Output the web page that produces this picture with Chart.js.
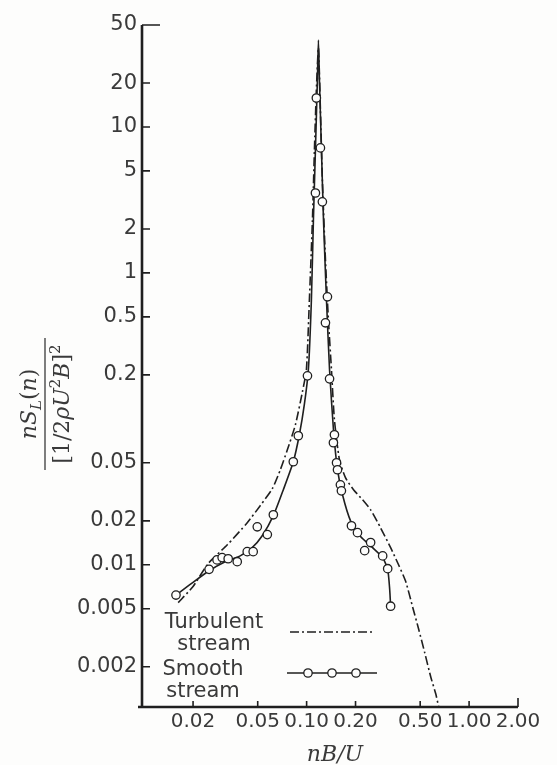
<!DOCTYPE html>
<html lang="en">
<head>
    <meta charset="UTF-8">
    <title>nS_L(n) spectrum</title>
    <script src="https://cdn.jsdelivr.net/npm/chart.js"></script>
    <style>
        * {
            margin: 0;
            padding: 0;
            box-sizing: border-box;
        }
        body {
            background-color: #fdfdfc;
            width: 557px;
            height: 765px;
            overflow: hidden;
        }
        #spectrum {
            display: block;
        }
    </style>
</head>
<body>
    <canvas id="spectrum" width="557" height="765"></canvas>

    <script>
        // tick values
        const yTicks = [50, 20, 10, 5, 2, 1, 0.5, 0.2, 0.05, 0.02, 0.01, 0.005, 0.002];
        const xTicks = [0.02, 0.05, 0.1, 0.2, 0.5, 1, 2];

        // smooth stream: measured points (circles)
        const smoothPointsX = [0.0157, 0.0251, 0.0281, 0.0302, 0.0329, 0.0374, 0.0431, 0.0469, 0.0497, 0.0573,
            0.0624, 0.0828, 0.0889, 0.1012, 0.1133, 0.1148, 0.1216, 0.1250, 0.1343, 0.1306,
            0.1384, 0.1483, 0.1462, 0.1528, 0.1549, 0.1614, 0.1637, 0.1888, 0.2056, 0.2477,
            0.2276, 0.2938, 0.3155, 0.3289];
        const smoothPointsY = [0.0062, 0.0093, 0.0108, 0.0112, 0.0110, 0.0105, 0.0123, 0.0123, 0.0182, 0.0161,
            0.0220, 0.0508, 0.0766, 0.197, 3.53, 15.8, 7.19, 3.07, 0.686, 0.455,
            0.188, 0.0778, 0.0686, 0.0500, 0.0448, 0.0353, 0.0321, 0.0185, 0.0166, 0.0142,
            0.0125, 0.0115, 0.0094, 0.0052];

        // smooth stream: faired curve (solid)
        const smoothCurveX = [0.0157, 0.0191, 0.0251, 0.0315, 0.0390, 0.0462, 0.0533, 0.0624, 0.0719, 0.0828,
            0.0902, 0.0968, 0.1025, 0.1070, 0.1101, 0.1133, 0.1165, 0.1182, 0.1199, 0.1234,
            0.1270, 0.1325, 0.1384, 0.1463, 0.1549, 0.1663, 0.1864, 0.2147, 0.2547, 0.2938,
            0.3155, 0.3245, 0.3289];
        const smoothCurveY = [0.0062, 0.0073, 0.0091, 0.0105, 0.0115, 0.0131, 0.0158, 0.0217, 0.0327, 0.0508,
            0.0778, 0.125, 0.217, 0.653, 2.31, 6.97, 21.0, 39.4, 21.0, 6.97,
            2.31, 0.653, 0.217, 0.0841, 0.0448, 0.0302, 0.0200, 0.0156, 0.0131, 0.0112,
            0.0093, 0.0068, 0.0052];

        // turbulent stream (dash-dot)
        const turbX = [0.0162, 0.0200, 0.0248, 0.0325, 0.0431, 0.0518, 0.0615, 0.0689, 0.0761, 0.0853,
            0.0942, 0.0997, 0.1040, 0.1086, 0.1117, 0.1148, 0.1182, 0.1216, 0.1250, 0.1306,
            0.1362, 0.1422, 0.1483, 0.1592, 0.1734, 0.1944, 0.2210, 0.2477, 0.2853, 0.3289,
            0.368, 0.407, 0.450, 0.490, 0.533, 0.581, 0.624, 0.650];
        const turbY = [0.0055, 0.0071, 0.0102, 0.0137, 0.0194, 0.0254, 0.0332, 0.0448, 0.0614, 0.0910,
            0.153, 0.217, 0.653, 2.31, 6.97, 17.9, 34.8, 13.1, 4.34, 1.23,
            0.476, 0.217, 0.0984, 0.0525, 0.0395, 0.0327, 0.0279, 0.0238, 0.0179, 0.0131,
            0.0100, 0.0077, 0.0051, 0.0036, 0.0025, 0.0017, 0.0013, 0.00106];

        const ink = '#1f1f1f';
        const textInk = '#3a3a3a';
        const sans = '"DejaVu Sans", sans-serif';
        const serif = '"DejaVu Serif", serif';
        const dashDot = [9, 3, 2, 3];

        const toPts = (xs, ys) => xs.map((x, i) => ({ x: x, y: ys[i] }));

        // draws a run of text pieces centred on cx
        function drawRun(ctx, parts, cx, baseline) {
            let w = 0;
            parts.forEach(p => { ctx.font = p.f; w += ctx.measureText(p.t).width; });
            let x = cx - w / 2;
            parts.forEach(p => {
                ctx.font = p.f;
                ctx.fillText(p.t, x, baseline + (p.dy || 0));
                x += ctx.measureText(p.t).width;
            });
        }

        const axesPlugin = {
            id: 'axes',
            afterDatasetsDraw(chart) {
                const ctx = chart.ctx;
                const a = chart.chartArea;
                const xs = chart.scales.x;
                const ys = chart.scales.y;
                ctx.save();
                ctx.strokeStyle = ink;
                ctx.lineCap = 'butt';

                // axis lines
                ctx.lineWidth = 2.6;
                ctx.beginPath();
                ctx.moveTo(a.left, a.top);
                ctx.lineTo(a.left, a.bottom);
                ctx.moveTo(a.left - 4, a.bottom);
                ctx.lineTo(a.right, a.bottom);
                ctx.stroke();

                // inward ticks
                ctx.lineWidth = 1.6;
                ctx.beginPath();
                yTicks.forEach(v => {
                    const py = ys.getPixelForValue(v);
                    ctx.moveTo(a.left, py);
                    ctx.lineTo(a.left + (v === 50 ? 18 : 8), py);
                });
                xTicks.forEach(v => {
                    const px = xs.getPixelForValue(v);
                    ctx.moveTo(px, a.bottom);
                    ctx.lineTo(px, a.bottom - (v === 2 ? 9 : 6));
                });
                ctx.stroke();

                // legend, inside the plot
                ctx.fillStyle = textInk;
                ctx.textAlign = 'center';
                ctx.textBaseline = 'alphabetic';
                ctx.font = '21px ' + sans;
                ctx.fillText('Turbulent', 214, 628);
                ctx.fillText('stream', 214, 650);
                ctx.fillText('Smooth', 203, 675);
                ctx.fillText('stream', 203, 697);

                ctx.lineWidth = 1.6;
                ctx.setLineDash(dashDot);
                ctx.beginPath();
                ctx.moveTo(290, 632);
                ctx.lineTo(373, 632);
                ctx.stroke();
                ctx.setLineDash([]);
                ctx.beginPath();
                ctx.moveTo(287, 673);
                ctx.lineTo(377, 673);
                ctx.stroke();
                [308, 332, 356].forEach(cx => {
                    ctx.beginPath();
                    ctx.arc(cx, 673, 4.2, 0, Math.PI * 2);
                    ctx.fillStyle = '#fdfdfc';
                    ctx.fill();
                    ctx.lineWidth = 1.3;
                    ctx.stroke();
                });

                // x axis title
                ctx.fillStyle = textInk;
                ctx.textAlign = 'left';
                ctx.textBaseline = 'alphabetic';
                drawRun(ctx, [
                    { t: 'nB/U', f: 'italic 22px ' + serif }
                ], 335, 761);

                // y axis title: rotated fraction
                ctx.translate(45, 404);
                ctx.rotate(-Math.PI / 2);
                ctx.lineWidth = 1.3;
                ctx.strokeStyle = textInk;
                ctx.beginPath();
                ctx.moveTo(-66, 0);
                ctx.lineTo(66, 0);
                ctx.stroke();
                drawRun(ctx, [
                    { t: 'nS', f: 'italic 22px ' + serif },
                    { t: 'L', f: 'italic 15px ' + serif, dy: 5 },
                    { t: '(', f: '22px ' + serif },
                    { t: 'n', f: 'italic 22px ' + serif },
                    { t: ')', f: '22px ' + serif }
                ], 0, -9);
                drawRun(ctx, [
                    { t: '[1/2', f: '22px ' + serif },
                    { t: '\u03C1', f: 'italic 22px ' + serif },
                    { t: 'U', f: 'italic 22px ' + serif },
                    { t: '2', f: '15px ' + serif, dy: -9 },
                    { t: 'B', f: 'italic 22px ' + serif },
                    { t: ']', f: '22px ' + serif },
                    { t: '2', f: '15px ' + serif, dy: -9 }
                ], 0, 24);

                ctx.restore();
            }
        };

        const ctx1 = document.getElementById('spectrum').getContext('2d');
        const spectrumChart = new Chart(ctx1, {
            type: 'scatter',
            data: {
                datasets: [{
                    label: 'Smooth stream (points)',
                    data: toPts(smoothPointsX, smoothPointsY),
                    showLine: false,
                    pointRadius: 4.2,
                    pointBackgroundColor: '#fdfdfc',
                    pointBorderColor: ink,
                    pointBorderWidth: 1.3
                }, {
                    label: 'Smooth stream',
                    data: toPts(smoothCurveX, smoothCurveY),
                    showLine: true,
                    borderColor: ink,
                    borderWidth: 1.6,
                    pointRadius: 0,
                    tension: 0.2
                }, {
                    label: 'Turbulent stream',
                    data: toPts(turbX, turbY),
                    showLine: true,
                    borderColor: ink,
                    borderWidth: 1.6,
                    borderDash: dashDot,
                    pointRadius: 0,
                    tension: 0.2
                }]
            },
            options: {
                responsive: false,
                animation: false,
                events: [],
                layout: {
                    padding: { top: 25, right: 39, left: 0, bottom: 0 }
                },
                plugins: {
                    legend: { display: false },
                    tooltip: { enabled: false }
                },
                scales: {
                    x: {
                        type: 'logarithmic',
                        min: 0.0097,
                        max: 2,
                        afterBuildTicks: s => { s.ticks = xTicks.map(v => ({ value: v })); },
                        afterFit: s => { s.height = 58; },
                        grid: { display: false, drawTicks: false },
                        border: { display: false },
                        ticks: {
                            autoSkip: false,
                            maxRotation: 0,
                            minRotation: 0,
                            padding: 3,
                            color: textInk,
                            font: { family: sans, size: 20 },
                            callback: v => Number(v).toFixed(2)
                        }
                    },
                    y: {
                        type: 'logarithmic',
                        min: 0.00106,
                        max: 50,
                        afterBuildTicks: s => { s.ticks = yTicks.map(v => ({ value: v })); },
                        afterFit: s => { s.width = 142; },
                        grid: { display: false, drawTicks: false },
                        border: { display: false },
                        ticks: {
                            autoSkip: false,
                            padding: 5,
                            color: textInk,
                            font: { family: sans, size: 21 },
                            callback: v => String(v)
                        }
                    }
                }
            },
            plugins: [axesPlugin]
        });
    </script>
</body>
</html>
